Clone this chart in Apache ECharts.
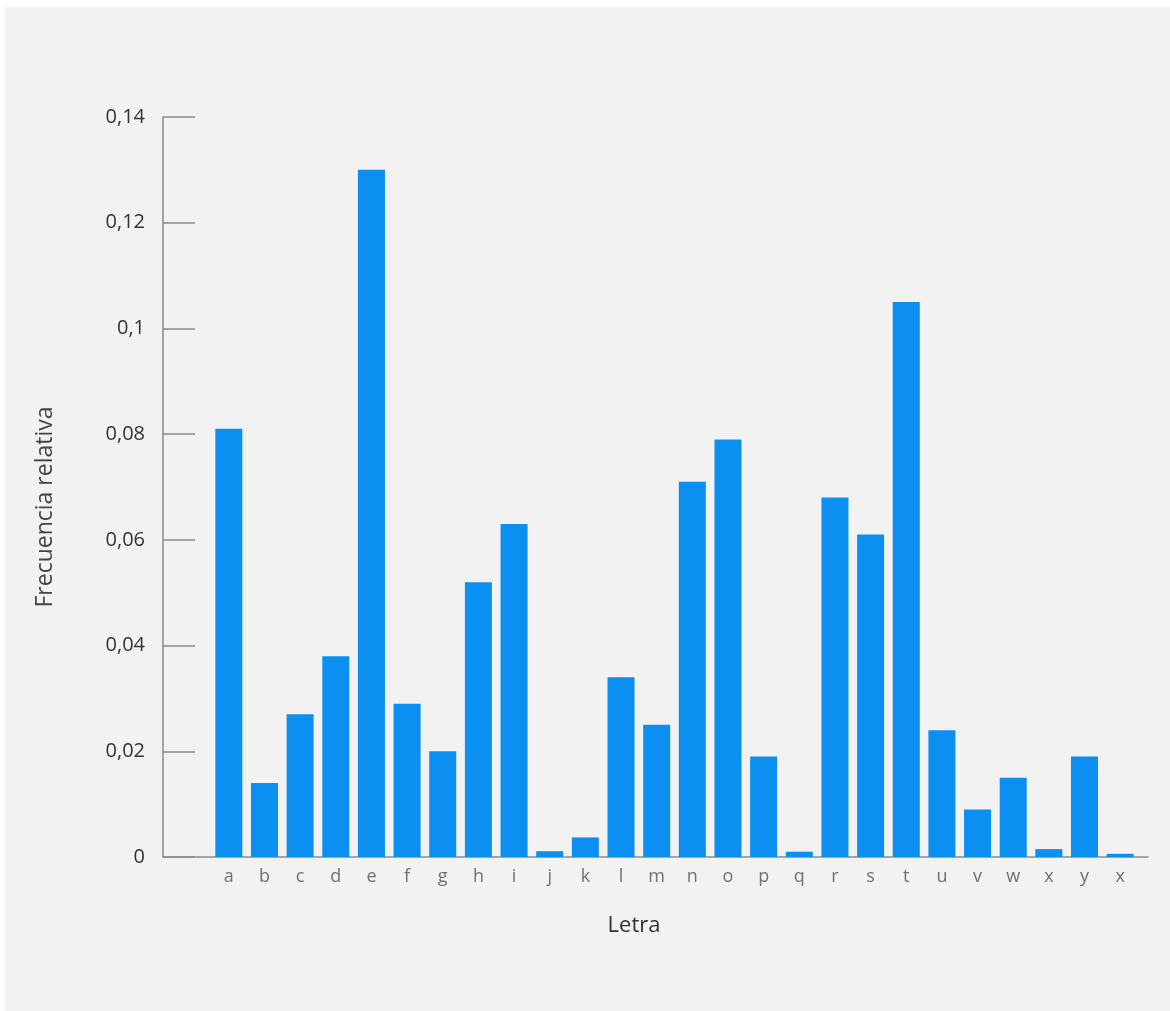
<!DOCTYPE html>
<html>
<head>
<meta charset="utf-8">
<script src="https://cdn.jsdelivr.net/npm/echarts@6/dist/echarts.min.js"></script>
<style>
html,body{margin:0;padding:0;background:#ffffff;}
#chart{position:absolute;left:0;top:0;width:1170px;height:1011px;}
</style>
</head>
<body>
<div id="chart"></div>
<script>
const letters = ['a','b','c','d','e','f','g','h','i','j','k','l','m','n','o','p','q','r','s','t','u','v','w','x','y','x'];
const frecuencias = [0.081,0.014,0.027,0.038,0.130,0.029,0.020,0.052,0.063,0.0011,0.0037,0.034,0.025,0.071,0.079,0.019,0.001,0.068,0.061,0.105,0.024,0.009,0.015,0.0015,0.019,0.0006];
const yTicks = [0,0.02,0.04,0.06,0.08,0.1,0.12,0.14];

const chart = echarts.init(document.getElementById('chart'));
const fmt = v => String(+(+v).toFixed(2)).replace('.', ',');
chart.setOption({
  backgroundColor: '#f2f2f2',
  animation: false,
  graphic: [
    {type:'rect', shape:{x:0,y:0,width:1170,height:7}, style:{fill:'#ffffff'}, silent:true},
    {type:'rect', shape:{x:0,y:0,width:5,height:1011}, style:{fill:'#ffffff'}, silent:true},
    {type:'text', x:634, y:926, style:{text:'Letra', fill:'#333', font:'22px "Open Sans", sans-serif', align:'center', verticalAlign:'middle'}}
  ],
  grid: [
    {left:163, right:22, top:117, bottom:154},
    {left:211, right:32, top:117, bottom:154}
  ],
  xAxis: [
    {gridIndex:0, type:'value', min:0, max:1, axisLine:{show:true, lineStyle:{color:'#8a8a8a', width:1.5}}, axisTick:{show:false}, axisLabel:{show:false}, splitLine:{show:false}},
    {gridIndex:1, type:'category', data: letters, axisLine:{show:false}, axisTick:{show:false},
     axisLabel:{color:'#707070', fontSize:18, fontFamily:'"Open Sans", sans-serif', margin:11, interval:0}}
  ],
  yAxis: [
    {gridIndex:0, type:'value', min:0, max:0.14, interval:0.02,
     name:'Frecuencia relativa', nameLocation:'middle', nameGap:106,
     nameTextStyle:{color:'#444', fontSize:23, fontFamily:'"Open Sans", sans-serif', padding:[0,40,0,0]},
     axisLine:{show:true, lineStyle:{color:'#8a8a8a', width:1.5}},
     axisTick:{show:true, inside:true, length:32, lineStyle:{color:'#8a8a8a', width:1.5}},
     axisLabel:{color:'#333', fontSize:20, fontFamily:'"Open Sans", sans-serif', margin:18, formatter: fmt},
     splitLine:{show:false}},
    {gridIndex:1, type:'value', min:0, max:0.14, show:false, splitLine:{show:false}}
  ],
  series: [{
    type:'bar', xAxisIndex:1, yAxisIndex:1, data: frecuencias, barWidth:27,
    itemStyle:{color:'#0b8ff0'}
  }]
});
</script>
</body>
</html>
